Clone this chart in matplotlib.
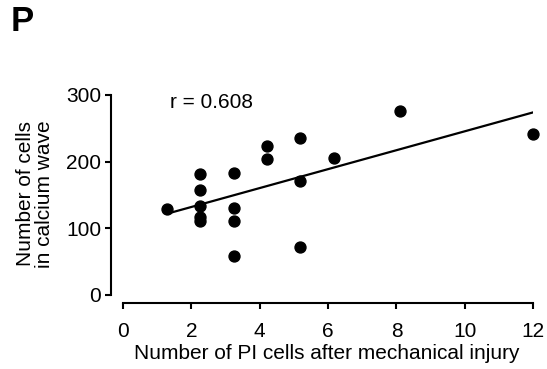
import numpy as np
import matplotlib
matplotlib.use("Agg")
import matplotlib.pyplot as plt

plt.rcParams['font.family'] = ['Liberation Sans', 'DejaVu Sans']

# PI cells vs cells in calcium wave
pi_cells = [1.29, 2.26, 2.26, 2.26, 2.26, 2.26, 3.24, 3.24, 3.24, 3.24,
            4.21, 4.21, 5.17, 5.17, 5.17, 6.17, 8.1, 11.98]
wave_cells = [128.5, 181, 157.5, 133.5, 117.5, 111, 182.5, 131, 111, 59,
              223.5, 203.5, 235, 171, 71.5, 205, 276.5, 241.5]
r_text = "r = 0.608"
xticks = [0, 2, 4, 6, 8, 10, 12]
yticks = [0, 100, 200, 300]

x = np.array(pi_cells)
y = np.array(wave_cells)
slope, icpt = np.polyfit(x, y, 1)
xl = np.array([x.min(), x.max()])

fig = plt.figure(figsize=(5.47, 3.69), dpi=100)
ax = fig.add_axes([0.2029, 0.1789, 0.772, 0.5637])

ax.scatter(x, y, s=62, color='black', zorder=3, clip_on=False)
ax.plot(xl, slope * xl + icpt, color='black', lw=1.6)
ax.text(1.37, 288, r_text, fontsize=15, va='center', ha='left')

ax.set_xlim(-0.35, 12.0)
ax.set_ylim(-12, 300)
ax.spines['top'].set_visible(False)
ax.spines['right'].set_visible(False)
ax.spines['left'].set_bounds(0, 300)
ax.spines['bottom'].set_bounds(0, 12)
for s in ['left', 'bottom']:
    ax.spines[s].set_linewidth(1.5)
ax.set_xticks(xticks)
ax.set_yticks(yticks)
ax.tick_params(width=1.5, length=4, labelsize=15, pad=3)
ax.tick_params(axis='x', pad=9.5)
ax.set_xlabel("Number of PI cells after mechanical injury", fontsize=15)
ax.xaxis.set_label_coords(0.5115, -0.197)
ax.set_ylabel("Number of cells\nin calcium wave", fontsize=15, linespacing=1.0)
ax.yaxis.set_label_coords(-0.135, 0.524)

fig.text(0.02, 0.942, "P", fontsize=25, fontweight='bold', va='center')

fig.savefig("out.png", dpi=100)
